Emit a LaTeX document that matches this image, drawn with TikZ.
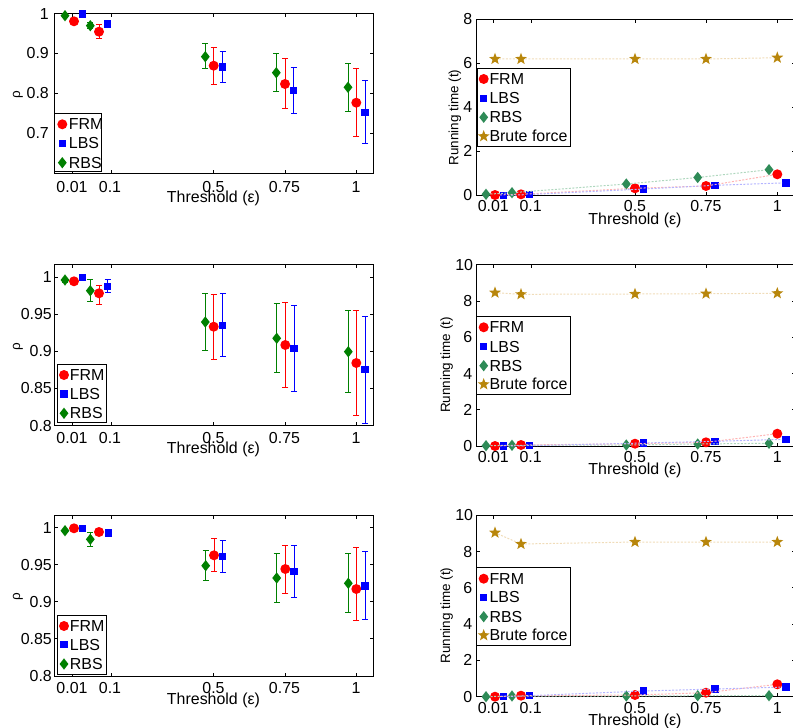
\documentclass[tikz,border=0pt]{standalone}
\usepackage{fontspec}
\setmainfont{Liberation Sans}
\usetikzlibrary{shapes.geometric,arrows.meta}
\definecolor{rbsgreen}{RGB}{0,128,0}
\definecolor{rbssea}{RGB}{46,139,87}
\definecolor{brutegold}{RGB}{184,134,11}
\definecolor{frmpale}{RGB}{255,180,180}
\definecolor{lbspale}{RGB}{180,180,255}
\definecolor{rbspale}{RGB}{175,215,190}
\definecolor{brutepale}{RGB}{240,220,185}

\begin{document}
\begin{tikzpicture}[x=1bp,y=1bp,
    font=\fontsize{16}{19}\selectfont,
    plotbox/.style={black,line width=1bp},
    frm/.style={circle,fill=red,minimum size=10bp},
    lbs/.style={rectangle,fill=blue,minimum size=7.5bp},
    rbs/.style={diamond,fill=rbsgreen,minimum width=9bp,minimum height=11.5bp},
    rbsb/.style={rbs,fill=rbssea},
    brute/.style={star,star points=5,star point ratio=2.4,fill=brutegold,minimum size=12.5bp},
    ebar/.style={line width=1bp,{Bar[width=6bp]}-{Bar[width=6bp]}},
    trail/.style={line width=1bp,dash pattern=on 2bp off 1.5bp},
    legbox/.style={draw=black,fill=white,line width=1bp},
    ylab/.style={rotate=90,font=\fontsize{13.5}{16}\selectfont},
    xlab/.style={text height=8bp,text depth=2bp}]
        \tikzstyle{every node}+=[inner sep=0pt]
        \useasboundingbox (0,0) rectangle (793,-728);
        \draw [plotbox] (54,-13.3) rectangle (373.3,-173.3);
        \draw [plotbox] (72,-173.3) -- ++(0,3.5) (111,-173.3) -- ++(0,3.5) (213.7,-173.3) -- ++(0,3.5) (285,-173.3) -- ++(0,3.5) (356.3,-173.3) -- ++(0,3.5)
            (72,-13.3) -- ++(0,-3.5) (111,-13.3) -- ++(0,-3.5) (213.7,-13.3) -- ++(0,-3.5) (285,-13.3) -- ++(0,-3.5) (356.3,-13.3) -- ++(0,-3.5);
        \draw [plotbox] (54,-53.3) -- ++(3.5,0) (54,-93.3) -- ++(3.5,0) (54,-133.3) -- ++(3.5,0)
            (373.3,-53.3) -- ++(-3.5,0) (373.3,-93.3) -- ++(-3.5,0) (373.3,-133.3) -- ++(-3.5,0);
        \node [anchor=east] (A-y1) at (49,-13.6) {1};
        \node [anchor=east] (A-y2) at (49,-53.3) {0.9};
        \node [anchor=east] (A-y3) at (49,-93.3) {0.8};
        \node [anchor=east] (A-y4) at (49,-133.3) {0.7};
        \node (A-x1) at (72,-187.5) {0.01};
        \node (A-x2) at (110,-187.5) {0.1};
        \node (A-x3) at (213.5,-187.5) {0.5};
        \node (A-x4) at (284.5,-187.5) {0.75};
        \node (A-x5) at (356,-187.5) {1};
        \node [xlab] (A-xlab) at (213.5,-199.5) {Threshold (ε)};
        \node [ylab] (A-ylab) at (18,-95) {ρ};
        \draw [ebar, rbsgreen] (65,-14) -- (65,-17.5);
        \draw [ebar, rbsgreen] (90.3,-21.7) -- (90.3,-29.3);
        \draw [ebar, rbsgreen] (205.3,-43.3) -- (205.3,-69.3);
        \draw [ebar, rbsgreen] (276.3,-53.3) -- (276.3,-92);
        \draw [ebar, rbsgreen] (348,-62.7) -- (348,-112);
        \draw [ebar, red] (99,-24.3) -- (99,-38.7);
        \draw [ebar, red] (213.7,-46.7) -- (213.7,-84.7);
        \draw [ebar, red] (285,-57.7) -- (285,-109.3);
        \draw [ebar, red] (356.3,-68) -- (356.3,-136.7);
        \draw [ebar, blue] (107.7,-20.7) -- (107.7,-27.3);
        \draw [ebar, blue] (222.5,-51) -- (222.5,-82.7);
        \draw [ebar, blue] (293.5,-67) -- (293.5,-114.3);
        \draw [ebar, blue] (365,-80.3) -- (365,-144);
        \node [rbs] (rbsA1) at (65,-15.7) {};
        \node [rbs] (rbsA2) at (90.3,-25.7) {};
        \node [rbs] (rbsA3) at (205.3,-56.7) {};
        \node [rbs] (rbsA4) at (276.3,-72.7) {};
        \node [rbs] (rbsA5) at (348,-87.3) {};
        \node [frm] (frmA1) at (74,-21.3) {};
        \node [frm] (frmA2) at (99,-31.7) {};
        \node [frm] (frmA3) at (213.7,-65.7) {};
        \node [frm] (frmA4) at (285,-84) {};
        \node [frm] (frmA5) at (356.3,-102.7) {};
        \node [lbs] (lbsA1) at (82.5,-14) {};
        \node [lbs] (lbsA2) at (107.7,-24) {};
        \node [lbs] (lbsA3) at (222.5,-67) {};
        \node [lbs] (lbsA4) at (293.5,-90.7) {};
        \node [lbs] (lbsA5) at (365,-112.3) {};
        \draw [legbox] (54,-114) rectangle (101.7,-171.7);
        \node [frm] (A-l1) at (62.3,-124.3) {};
        \node [anchor=west] (A-t1) at (68.7,-124.3) {FRM};
        \node [lbs] (A-l2) at (62.3,-143.3) {};
        \node [anchor=west] (A-t2) at (68.7,-143.3) {LBS};
        \node [rbs] (A-l3) at (62.3,-162.7) {};
        \node [anchor=west] (A-t3) at (68.7,-162.7) {RBS};
        \draw [plotbox] (476,-19.3) rectangle (795,-195.3);
        \draw [plotbox] (493,-195.3) -- ++(0,3.5) (531,-195.3) -- ++(0,3.5) (635,-195.3) -- ++(0,3.5) (706,-195.3) -- ++(0,3.5) (777.3,-195.3) -- ++(0,3.5)
            (493,-19.3) -- ++(0,-3.5) (531,-19.3) -- ++(0,-3.5) (635,-19.3) -- ++(0,-3.5) (706,-19.3) -- ++(0,-3.5) (777.3,-19.3) -- ++(0,-3.5);
        \draw [plotbox] (476,-63.3) -- ++(3.5,0) (476,-107.3) -- ++(3.5,0) (476,-151.3) -- ++(3.5,0)
            (795,-63.3) -- ++(-3.5,0) (795,-107.3) -- ++(-3.5,0) (795,-151.3) -- ++(-3.5,0);
        \node [anchor=east] (B-y1) at (472.5,-19.3) {8};
        \node [anchor=east] (B-y2) at (472.5,-63.3) {6};
        \node [anchor=east] (B-y3) at (472.5,-107.3) {4};
        \node [anchor=east] (B-y4) at (472.5,-151.3) {2};
        \node [anchor=east] (B-y5) at (472.5,-195.3) {0};
        \node (B-x1) at (493.3,-206.2) {0.01};
        \node (B-x2) at (530.7,-206.2) {0.1};
        \node (B-x3) at (635,-206.2) {0.5};
        \node (B-x4) at (706,-206.2) {0.75};
        \node (B-x5) at (777.3,-206.2) {1};
        \node [xlab] (B-xlab) at (635,-221.5) {Threshold (ε)};
        \node [ylab] (B-ylab) at (455,-117.5) {Running time (t)};
        \node [brute] (bruB1) at (495,-59) {};
        \node [brute] (bruB2) at (521,-59) {};
        \node [brute] (bruB3) at (635,-59) {};
        \node [brute] (bruB4) at (706,-59) {};
        \node [brute] (bruB5) at (777.3,-57.7) {};
        \node [rbsb] (rbsB1) at (486,-194.3) {};
        \node [rbsb] (rbsB2) at (512,-192.7) {};
        \node [rbsb] (rbsB3) at (626.3,-184) {};
        \node [rbsb] (rbsB4) at (697.7,-177.5) {};
        \node [rbsb] (rbsB5) at (769,-169.7) {};
        \node [frm] (frmB1) at (495,-195) {};
        \node [frm] (frmB2) at (521,-194.3) {};
        \node [frm] (frmB3) at (635,-188.3) {};
        \node [frm] (frmB4) at (706,-186) {};
        \node [frm] (frmB5) at (777.3,-174.3) {};
        \node [lbs] (lbsB1) at (503.7,-195.5) {};
        \node [lbs] (lbsB2) at (529.3,-194.5) {};
        \node [lbs] (lbsB3) at (643.7,-189) {};
        \node [lbs] (lbsB4) at (715,-185.3) {};
        \node [lbs] (lbsB5) at (786,-182.8) {};
        \draw [trail, brutepale] (bruB1) -- (bruB2) -- (bruB3) -- (bruB4) -- (bruB5);
        \draw [trail, rbspale] (rbsB1) -- (rbsB2) -- (rbsB3) -- (rbsB4) -- (rbsB5);
        \draw [trail, frmpale] (frmB1) -- (frmB2) -- (frmB3) -- (frmB4) -- (frmB5);
        \draw [trail, lbspale] (lbsB1) -- (lbsB2) -- (lbsB3) -- (lbsB4) -- (lbsB5);
        \draw [legbox] (477,-69) rectangle (570.3,-146);
        \node [frm] (B-l1) at (483.7,-79) {};
        \node [anchor=west] (B-t1) at (489.3,-79) {FRM};
        \node [lbs] (B-l2) at (483.7,-98.3) {};
        \node [anchor=west] (B-t2) at (489.3,-98.3) {LBS};
        \node [rbsb] (B-l3) at (483.7,-117.3) {};
        \node [anchor=west] (B-t3) at (489.3,-117.3) {RBS};
        \node [brute] (B-l4) at (483.7,-136.3) {};
        \node [anchor=west] (B-t4) at (489.3,-136.3) {Brute force};
        \draw [plotbox] (54,-264.3) rectangle (373.3,-425.7);
        \draw [plotbox] (72,-425.7) -- ++(0,3.5) (111,-425.7) -- ++(0,3.5) (213.7,-425.7) -- ++(0,3.5) (285,-425.7) -- ++(0,3.5) (356.3,-425.7) -- ++(0,3.5)
            (72,-264.3) -- ++(0,-3.5) (111,-264.3) -- ++(0,-3.5) (213.7,-264.3) -- ++(0,-3.5) (285,-264.3) -- ++(0,-3.5) (356.3,-264.3) -- ++(0,-3.5);
        \draw [plotbox] (54,-277.2) -- ++(3.5,0) (54,-314.3) -- ++(3.5,0) (54,-351.4) -- ++(3.5,0) (54,-388.5) -- ++(3.5,0)
            (373.3,-277.2) -- ++(-3.5,0) (373.3,-314.3) -- ++(-3.5,0) (373.3,-351.4) -- ++(-3.5,0) (373.3,-388.5) -- ++(-3.5,0);
        \node [anchor=east] (C-y1) at (52,-277.2) {1};
        \node [anchor=east] (C-y2) at (52,-314.3) {0.95};
        \node [anchor=east] (C-y3) at (52,-351.4) {0.9};
        \node [anchor=east] (C-y4) at (52,-388.5) {0.85};
        \node [anchor=east] (C-y5) at (52,-425.7) {0.8};
        \node (C-x1) at (72,-438.5) {0.01};
        \node (C-x2) at (110,-438.5) {0.1};
        \node (C-x3) at (213.5,-438.5) {0.5};
        \node (C-x4) at (284.5,-438.5) {0.75};
        \node (C-x5) at (356,-438.5) {1};
        \node [xlab] (C-xlab) at (213.5,-450.3) {Threshold (ε)};
        \node [ylab] (C-ylab) at (18,-346.7) {ρ};
        \draw [ebar, rbsgreen] (65,-277.5) -- (65,-282.5);
        \draw [ebar, rbsgreen] (90.3,-279.3) -- (90.3,-301.7);
        \draw [ebar, rbsgreen] (205.3,-292.7) -- (205.3,-351);
        \draw [ebar, rbsgreen] (276.7,-302.7) -- (276.7,-373.3);
        \draw [ebar, rbsgreen] (348.3,-310) -- (348.3,-393.3);
        \draw [ebar, red] (99,-285) -- (99,-305);
        \draw [ebar, red] (213.7,-294) -- (213.7,-359.7);
        \draw [ebar, red] (285.3,-302) -- (285.3,-388);
        \draw [ebar, red] (356.3,-310) -- (356.3,-416);
        \draw [ebar, blue] (107.7,-279.3) -- (107.7,-293.3);
        \draw [ebar, blue] (222.5,-293.3) -- (222.5,-357);
        \draw [ebar, blue] (294,-305.3) -- (294,-392);
        \draw [ebar, blue] (365,-315.7) -- (365,-423.7);
        \node [rbs] (rbsC1) at (65,-280) {};
        \node [rbs] (rbsC2) at (90.3,-290.7) {};
        \node [rbs] (rbsC3) at (205.3,-322) {};
        \node [rbs] (rbsC4) at (276.7,-338.3) {};
        \node [rbs] (rbsC5) at (348.3,-351.7) {};
        \node [frm] (frmC1) at (74,-281.3) {};
        \node [frm] (frmC2) at (99,-293.3) {};
        \node [frm] (frmC3) at (213.7,-326.7) {};
        \node [frm] (frmC4) at (285.3,-345) {};
        \node [frm] (frmC5) at (356.3,-363) {};
        \node [lbs] (lbsC1) at (82.5,-277.7) {};
        \node [lbs] (lbsC2) at (107.7,-286.3) {};
        \node [lbs] (lbsC3) at (222.5,-325.3) {};
        \node [lbs] (lbsC4) at (294,-348.7) {};
        \node [lbs] (lbsC5) at (365,-369.3) {};
        \draw [legbox] (57.3,-364) rectangle (106,-422.7);
        \node [frm] (C-l1) at (64,-375) {};
        \node [anchor=west] (C-t1) at (69.7,-375) {FRM};
        \node [lbs] (C-l2) at (64,-394) {};
        \node [anchor=west] (C-t2) at (69.7,-394) {LBS};
        \node [rbs] (C-l3) at (64,-413.3) {};
        \node [anchor=west] (C-t3) at (69.7,-413.3) {RBS};
        \draw [plotbox] (476,-264.7) rectangle (795,-446);
        \draw [plotbox] (493,-446) -- ++(0,3.5) (531,-446) -- ++(0,3.5) (635,-446) -- ++(0,3.5) (706,-446) -- ++(0,3.5) (777.3,-446) -- ++(0,3.5)
            (493,-264.7) -- ++(0,-3.5) (531,-264.7) -- ++(0,-3.5) (635,-264.7) -- ++(0,-3.5) (706,-264.7) -- ++(0,-3.5) (777.3,-264.7) -- ++(0,-3.5);
        \draw [plotbox] (476,-301) -- ++(3.5,0) (476,-337.3) -- ++(3.5,0) (476,-373.6) -- ++(3.5,0) (476,-409.8) -- ++(3.5,0)
            (795,-301) -- ++(-3.5,0) (795,-337.3) -- ++(-3.5,0) (795,-373.6) -- ++(-3.5,0) (795,-409.8) -- ++(-3.5,0);
        \node [anchor=east] (D-y1) at (473.3,-264.7) {10};
        \node [anchor=east] (D-y2) at (472.5,-301) {8};
        \node [anchor=east] (D-y3) at (472.5,-337.3) {6};
        \node [anchor=east] (D-y4) at (472.5,-373.6) {4};
        \node [anchor=east] (D-y5) at (472.5,-409.8) {2};
        \node [anchor=east] (D-y6) at (472.5,-446) {0};
        \node (D-x1) at (493.3,-456.8) {0.01};
        \node (D-x2) at (530.7,-456.8) {0.1};
        \node (D-x3) at (635,-456.8) {0.5};
        \node (D-x4) at (706,-456.8) {0.75};
        \node (D-x5) at (777.3,-456.8) {1};
        \node [xlab] (D-xlab) at (635,-471.3) {Threshold (ε)};
        \node [ylab] (D-ylab) at (446.7,-365) {Running time (t)};
        \node [brute] (bruD1) at (495,-292.7) {};
        \node [brute] (bruD2) at (521,-294.3) {};
        \node [brute] (bruD3) at (635,-294) {};
        \node [brute] (bruD4) at (706,-293.7) {};
        \node [brute] (bruD5) at (777.3,-293.3) {};
        \node [rbsb] (rbsD1) at (486,-445.7) {};
        \node [rbsb] (rbsD2) at (512,-445.3) {};
        \node [rbsb] (rbsD3) at (626.3,-445) {};
        \node [rbsb] (rbsD4) at (697.7,-444) {};
        \node [rbsb] (rbsD5) at (769,-443.3) {};
        \node [frm] (frmD1) at (495,-446) {};
        \node [frm] (frmD2) at (521,-445) {};
        \node [frm] (frmD3) at (635,-443.7) {};
        \node [frm] (frmD4) at (706,-442.3) {};
        \node [frm] (frmD5) at (777.3,-433.7) {};
        \node [lbs] (lbsD1) at (503.7,-446) {};
        \node [lbs] (lbsD2) at (529.3,-445.7) {};
        \node [lbs] (lbsD3) at (643.7,-443) {};
        \node [lbs] (lbsD4) at (715,-441.3) {};
        \node [lbs] (lbsD5) at (786,-439.3) {};
        \draw [trail, brutepale] (bruD1) -- (bruD2) -- (bruD3) -- (bruD4) -- (bruD5);
        \draw [trail, rbspale] (rbsD1) -- (rbsD2) -- (rbsD3) -- (rbsD4) -- (rbsD5);
        \draw [trail, frmpale] (frmD1) -- (frmD2) -- (frmD3) -- (frmD4) -- (frmD5);
        \draw [trail, lbspale] (lbsD1) -- (lbsD2) -- (lbsD3) -- (lbsD4) -- (lbsD5);
        \draw [legbox] (476.7,-316.3) rectangle (570.3,-394.3);
        \node [frm] (D-l1) at (483.7,-327.3) {};
        \node [anchor=west] (D-t1) at (489.3,-327.3) {FRM};
        \node [lbs] (D-l2) at (483.7,-346.7) {};
        \node [anchor=west] (D-t2) at (489.3,-346.7) {LBS};
        \node [rbsb] (D-l3) at (483.7,-365.7) {};
        \node [anchor=west] (D-t3) at (489.3,-365.7) {RBS};
        \node [brute] (D-l4) at (483.7,-384.3) {};
        \node [anchor=west] (D-t4) at (489.3,-384.3) {Brute force};
        \draw [plotbox] (54,-515) rectangle (373.3,-676);
        \draw [plotbox] (72,-676) -- ++(0,3.5) (111,-676) -- ++(0,3.5) (213.7,-676) -- ++(0,3.5) (285,-676) -- ++(0,3.5) (356.3,-676) -- ++(0,3.5)
            (72,-515) -- ++(0,-3.5) (111,-515) -- ++(0,-3.5) (213.7,-515) -- ++(0,-3.5) (285,-515) -- ++(0,-3.5) (356.3,-515) -- ++(0,-3.5);
        \draw [plotbox] (54,-527.7) -- ++(3.5,0) (54,-564.7) -- ++(3.5,0) (54,-601.7) -- ++(3.5,0) (54,-638.8) -- ++(3.5,0)
            (373.3,-527.7) -- ++(-3.5,0) (373.3,-564.7) -- ++(-3.5,0) (373.3,-601.7) -- ++(-3.5,0) (373.3,-638.8) -- ++(-3.5,0);
        \node [anchor=east] (E-y1) at (52,-527.7) {1};
        \node [anchor=east] (E-y2) at (52,-564.7) {0.95};
        \node [anchor=east] (E-y3) at (52,-601.7) {0.9};
        \node [anchor=east] (E-y4) at (52,-638.8) {0.85};
        \node [anchor=east] (E-y5) at (52,-676) {0.8};
        \node (E-x1) at (72,-688.5) {0.01};
        \node (E-x2) at (110,-688.5) {0.1};
        \node (E-x3) at (213.5,-688.5) {0.5};
        \node (E-x4) at (284.5,-688.5) {0.75};
        \node (E-x5) at (356,-688.5) {1};
        \node [xlab] (E-xlab) at (213.5,-701) {Threshold (ε)};
        \node [ylab] (E-ylab) at (18,-596.7) {ρ};
        \draw [ebar, rbsgreen] (90.3,-532.3) -- (90.3,-547.3);
        \draw [ebar, rbsgreen] (205.7,-550) -- (205.7,-581);
        \draw [ebar, rbsgreen] (276.7,-553.3) -- (276.7,-602.7);
        \draw [ebar, rbsgreen] (348.3,-552.7) -- (348.3,-613.3);
        \draw [ebar, red] (214,-538) -- (214,-572);
        \draw [ebar, red] (285.3,-544.7) -- (285.3,-593.7);
        \draw [ebar, red] (356.3,-547.3) -- (356.3,-620.7);
        \draw [ebar, blue] (222.7,-539.7) -- (222.7,-573);
        \draw [ebar, blue] (294,-544.7) -- (294,-597.7);
        \draw [ebar, blue] (365,-551.3) -- (365,-620);
        \node [rbs] (rbsE1) at (65,-530.7) {};
        \node [rbs] (rbsE2) at (90.3,-539.3) {};
        \node [rbs] (rbsE3) at (205.7,-565.7) {};
        \node [rbs] (rbsE4) at (276.7,-578) {};
        \node [rbs] (rbsE5) at (348.3,-583.3) {};
        \node [frm] (frmE1) at (74,-528.3) {};
        \node [frm] (frmE2) at (99,-532) {};
        \node [frm] (frmE3) at (214,-555.3) {};
        \node [frm] (frmE4) at (285.3,-569) {};
        \node [frm] (frmE5) at (356.3,-589) {};
        \node [lbs] (lbsE1) at (82.5,-528.7) {};
        \node [lbs] (lbsE2) at (108.5,-533) {};
        \node [lbs] (lbsE3) at (222.7,-556.3) {};
        \node [lbs] (lbsE4) at (294,-571.3) {};
        \node [lbs] (lbsE5) at (365,-586) {};
        \draw [legbox] (57.3,-615.7) rectangle (106.7,-674);
        \node [frm] (E-l1) at (64,-626) {};
        \node [anchor=west] (E-t1) at (69.7,-626) {FRM};
        \node [lbs] (E-l2) at (64,-644.7) {};
        \node [anchor=west] (E-t2) at (69.7,-644.7) {LBS};
        \node [rbs] (E-l3) at (64,-664) {};
        \node [anchor=west] (E-t3) at (69.7,-664) {RBS};
        \draw [plotbox] (476,-515.3) rectangle (795,-696.7);
        \draw [plotbox] (493,-696.7) -- ++(0,3.5) (531,-696.7) -- ++(0,3.5) (635,-696.7) -- ++(0,3.5) (706,-696.7) -- ++(0,3.5) (777.3,-696.7) -- ++(0,3.5)
            (493,-515.3) -- ++(0,-3.5) (531,-515.3) -- ++(0,-3.5) (635,-515.3) -- ++(0,-3.5) (706,-515.3) -- ++(0,-3.5) (777.3,-515.3) -- ++(0,-3.5);
        \draw [plotbox] (476,-551.6) -- ++(3.5,0) (476,-587.9) -- ++(3.5,0) (476,-624.1) -- ++(3.5,0) (476,-660.4) -- ++(3.5,0)
            (795,-551.6) -- ++(-3.5,0) (795,-587.9) -- ++(-3.5,0) (795,-624.1) -- ++(-3.5,0) (795,-660.4) -- ++(-3.5,0);
        \node [anchor=east] (F-y1) at (473.3,-515.3) {10};
        \node [anchor=east] (F-y2) at (472.5,-551.6) {8};
        \node [anchor=east] (F-y3) at (472.5,-587.9) {6};
        \node [anchor=east] (F-y4) at (472.5,-624.1) {4};
        \node [anchor=east] (F-y5) at (472.5,-660.4) {2};
        \node [anchor=east] (F-y6) at (472.5,-696.7) {0};
        \node (F-x1) at (493.3,-707.8) {0.01};
        \node (F-x2) at (530.7,-707.8) {0.1};
        \node (F-x3) at (635,-707.8) {0.5};
        \node (F-x4) at (706,-707.8) {0.75};
        \node (F-x5) at (777.3,-707.8) {1};
        \node [xlab] (F-xlab) at (635,-722.5) {Threshold (ε)};
        \node [ylab] (F-ylab) at (446.7,-615.5) {Running time (t)};
        \node [brute] (bruF1) at (495,-532.7) {};
        \node [brute] (bruF2) at (521,-544) {};
        \node [brute] (bruF3) at (635,-542) {};
        \node [brute] (bruF4) at (706,-542) {};
        \node [brute] (bruF5) at (777.3,-542) {};
        \node [rbsb] (rbsF1) at (486,-696.7) {};
        \node [rbsb] (rbsF2) at (512,-696) {};
        \node [rbsb] (rbsF3) at (626.3,-696) {};
        \node [rbsb] (rbsF4) at (697.7,-695.7) {};
        \node [rbsb] (rbsF5) at (769,-695.7) {};
        \node [frm] (frmF1) at (495,-696.7) {};
        \node [frm] (frmF2) at (521,-695.7) {};
        \node [frm] (frmF3) at (635,-695) {};
        \node [frm] (frmF4) at (706,-692.7) {};
        \node [frm] (frmF5) at (777.3,-684.3) {};
        \node [lbs] (lbsF1) at (503.7,-696.7) {};
        \node [lbs] (lbsF2) at (529.3,-695.7) {};
        \node [lbs] (lbsF3) at (643.7,-691) {};
        \node [lbs] (lbsF4) at (715,-689) {};
        \node [lbs] (lbsF5) at (786,-687) {};
        \draw [trail, brutepale] (bruF1) -- (bruF2) -- (bruF3) -- (bruF4) -- (bruF5);
        \draw [trail, rbspale] (rbsF1) -- (rbsF2) -- (rbsF3) -- (rbsF4) -- (rbsF5);
        \draw [trail, frmpale] (frmF1) -- (frmF2) -- (frmF3) -- (frmF4) -- (frmF5);
        \draw [trail, lbspale] (lbsF1) -- (lbsF2) -- (lbsF3) -- (lbsF4) -- (lbsF5);
        \draw [legbox] (476.7,-567.7) rectangle (570.3,-645.3);
        \node [frm] (F-l1) at (483.7,-578.7) {};
        \node [anchor=west] (F-t1) at (489.3,-578.7) {FRM};
        \node [lbs] (F-l2) at (483.7,-597.3) {};
        \node [anchor=west] (F-t2) at (489.3,-597.3) {LBS};
        \node [rbsb] (F-l3) at (483.7,-616.7) {};
        \node [anchor=west] (F-t3) at (489.3,-616.7) {RBS};
        \node [brute] (F-l4) at (483.7,-635.3) {};
        \node [anchor=west] (F-t4) at (489.3,-635.3) {Brute force};
    \end{tikzpicture}
\end{document}
